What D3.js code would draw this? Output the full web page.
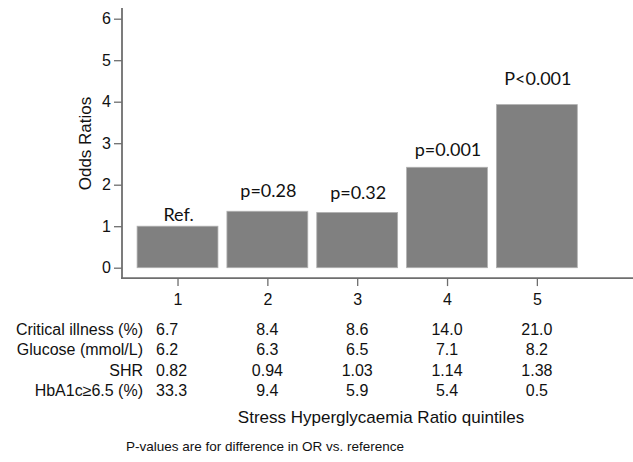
<!DOCTYPE html>
<html>
<head>
<meta charset="utf-8">
<script src="https://cdn.jsdelivr.net/npm/d3@7"></script>
<style>
    body { margin: 0; background: #fff; }
    text { font-family: "Liberation Sans", Arial, sans-serif; fill: #111; }
    .p-label { font-family: Lato, "Open Sans", sans-serif; }
</style>
</head>
<body>
<div id="chart"></div>
<script>
// quintiles of stress hyperglycaemia ratio
const quintiles = [1, 2, 3, 4, 5];
const oddsRatios = [1.0, 1.36, 1.33, 2.42, 3.93];
const pLabels = ["Ref.", "p=0.28", "p=0.32", "p=0.001", "P<0.001"];
// height (in OR units) where each p-value annotation sits
const pLabelAt = [1.13, 1.70, 1.65, 2.70, 4.40];
const yTicks = [0, 1, 2, 3, 4, 5, 6];

const rowNames = ["Critical illness (%)", "Glucose (mmol/L)", "SHR", "HbA1c\u22656.5 (%)"];
const criticalIllness = ["6.7", "8.4", "8.6", "14.0", "21.0"];
const glucose = ["6.2", "6.3", "6.5", "7.1", "8.2"];
const shr = ["0.82", "0.94", "1.03", "1.14", "1.38"];
const hba1c = ["33.3", "9.4", "5.9", "5.4", "0.5"];
const tableRows = [criticalIllness, glucose, shr, hba1c];

const xTitle = "Stress Hyperglycaemia Ratio quintiles";
const yTitle = "Odds Ratios";
const footnote = "P-values are for difference in OR vs. reference";

class OddsBarChart {
    constructor(parentElement) {
        this.parentElement = parentElement;
        this.width = 633;
        this.height = 462;
        this.render();
    }

    render() {
        let vis = this;

        vis.svg = d3.select("#" + vis.parentElement).append("svg")
            .attr("width", vis.width)
            .attr("height", vis.height);

        const axisColor = "#6e6e6e";

        vis.x = d3.scaleLinear().domain([0.382, 6.07]).range([122, 633]);
        vis.y = d3.scaleLinear().domain([0, 6]).range([267.7, 18.7]);

        const barWidth = vis.x(1.9) - vis.x(1);
        const axisBottom = vis.y(-0.25);
        const axisTop = vis.y(6.26);

        // Bars
        vis.svg.append("g")
            .selectAll("rect")
            .data(quintiles)
            .enter().append("rect")
            .attr("x", (d) => vis.x(d) - barWidth / 2)
            .attr("y", (d, i) => vis.y(oddsRatios[i]))
            .attr("width", barWidth)
            .attr("height", (d, i) => vis.y(0) - vis.y(oddsRatios[i]))
            .attr("fill", "#808080")
            .attr("stroke", "#b0b0b0")
            .attr("stroke-width", 0.8);

        // p-value labels
        vis.svg.append("g")
            .selectAll("text")
            .data(quintiles)
            .enter().append("text")
            .attr("class", "p-label")
            .attr("x", (d) => vis.x(d) + 1)
            .attr("y", (d, i) => vis.y(pLabelAt[i]))
            .attr("text-anchor", "middle")
            .style("font-size", "18px")
            .text((d, i) => pLabels[i]);

        // Y axis
        let yAxis = vis.svg.append("g")
            .attr("transform", "translate(122,0)")
            .call(d3.axisLeft(vis.y).tickValues(yTicks).tickSize(8).tickPadding(3).tickFormat(d3.format("d")));
        yAxis.select(".domain").remove();
        yAxis.selectAll("line").attr("stroke", axisColor).attr("stroke-width", 1.3);
        yAxis.selectAll("text").style("font-size", "16px").attr("fill", "#111")
            .style("font-family", "'Liberation Sans', Arial, sans-serif");

        vis.svg.append("line")
            .attr("x1", 122).attr("x2", 122)
            .attr("y1", axisTop).attr("y2", axisBottom)
            .attr("stroke", axisColor).attr("stroke-width", 1.8);

        // X axis
        let xAxis = vis.svg.append("g")
            .attr("transform", `translate(0,${axisBottom})`)
            .call(d3.axisBottom(vis.x).tickValues(quintiles).tickSize(8).tickPadding(8).tickFormat(d3.format("d")));
        xAxis.select(".domain").remove();
        xAxis.selectAll("line").attr("stroke", axisColor).attr("stroke-width", 1.3);
        xAxis.selectAll("text").style("font-size", "16px").attr("fill", "#111")
            .style("font-family", "'Liberation Sans', Arial, sans-serif");

        vis.svg.append("line")
            .attr("x1", 121).attr("x2", 633)
            .attr("y1", axisBottom).attr("y2", axisBottom)
            .attr("stroke", axisColor).attr("stroke-width", 1.8);

        // Y title
        vis.svg.append("text")
            .attr("transform", "translate(91,143.5) rotate(-90)")
            .attr("text-anchor", "middle")
            .style("font-size", "17px")
            .text(yTitle);

        // Table under the axis
        const rowY = [335, 355.3, 375.6, 396];
        const labelRight = 143;

        rowNames.forEach((name, r) => {
            vis.svg.append("text")
                .attr("x", labelRight)
                .attr("y", rowY[r])
                .attr("text-anchor", "end")
                .style("font-size", "16px")
                .text(name);

            vis.svg.append("g")
                .selectAll("text")
                .data(tableRows[r])
                .enter().append("text")
                .attr("x", (d, i) => i === 0 ? labelRight + 13 : vis.x(quintiles[i]))
                .attr("y", rowY[r])
                .attr("text-anchor", (d, i) => i === 0 ? "start" : "middle")
                .style("font-size", "16px")
                .text((d) => d);
        });

        // X title
        vis.svg.append("text")
            .attr("x", 381)
            .attr("y", 423)
            .attr("text-anchor", "middle")
            .style("font-size", "17px")
            .text(xTitle);

        // footnote
        vis.svg.append("text")
            .attr("x", 126)
            .attr("y", 451)
            .style("font-size", "13.5px")
            .text(footnote);
    }
}

new OddsBarChart("chart");
</script>
</body>
</html>
